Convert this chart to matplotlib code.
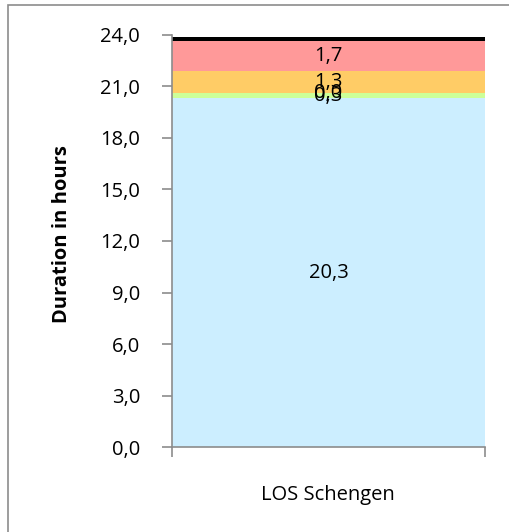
import matplotlib
matplotlib.use("Agg")
import matplotlib.pyplot as plt
from matplotlib.patches import Rectangle

categories = ["LOS Schengen"]
segment_values = [20.3, 0.3, 0.0, 1.3, 1.7, 0.25]
segment_labels = ["20,3", "0,3", "0,0", "1,3", "1,7", None]
segment_colors = ["#cceeff", "#ccff99", "#ffff99", "#ffcc66", "#ff9999", "#000000"]
y_ticks = [0, 3, 6, 9, 12, 15, 18, 21, 24]
y_tick_labels = ["0,0", "3,0", "6,0", "9,0", "12,0", "15,0", "18,0", "21,0", "24,0"]

plt.rcParams["font.family"] = ["Open Sans", "DejaVu Sans"]
FS = 14.5

W, H = 509, 532
fig = plt.figure(figsize=(W / 100, H / 100), dpi=100)

# outer chart frame
fig.patches.append(Rectangle((8 / W, -0.1), 1.2, 1 - 5 / H + 0.1,
                             transform=fig.transFigure, fill=False,
                             edgecolor="#8c8c8c", linewidth=1.2))

ax = fig.add_axes([172 / W, 1 - 447.3 / H, (485 - 172) / W, (447.3 - 34.5) / H])

bottom = 0.0
for val, lab, col in zip(segment_values, segment_labels, segment_colors):
    ax.bar(0, val, width=1.0, bottom=bottom, color=col, edgecolor="none")
    if lab is not None:
        ax.text(0, bottom + val / 2, lab, ha="center", va="center", fontsize=FS, color="black")
    bottom += val

ax.set_xlim(-0.5, 0.5)
ax.set_ylim(0, 24)
ax.set_yticks(y_ticks)
ax.set_yticklabels(y_tick_labels, fontsize=FS)
ax.set_xticks([-0.5, 0.5])
ax.set_xticklabels(["", ""])
fig.text(328 / W, 1 - 495 / H, categories[0], ha="center", va="center", fontsize=FS)

fig.text(62 / W, 1 - 234 / H, "Duration in hours", rotation=90, ha="center", va="center",
         fontsize=FS, fontweight="bold")

for s in ["top", "right"]:
    ax.spines[s].set_visible(False)
for s in ["left", "bottom"]:
    ax.spines[s].set_color("#8c8c8c")
    ax.spines[s].set_linewidth(1.2)
ax.tick_params(axis="both", colors="#8c8c8c", length=7, width=1.2, labelcolor="black")
ax.tick_params(axis="y", pad=16)

fig.savefig("out.png", dpi=100)
